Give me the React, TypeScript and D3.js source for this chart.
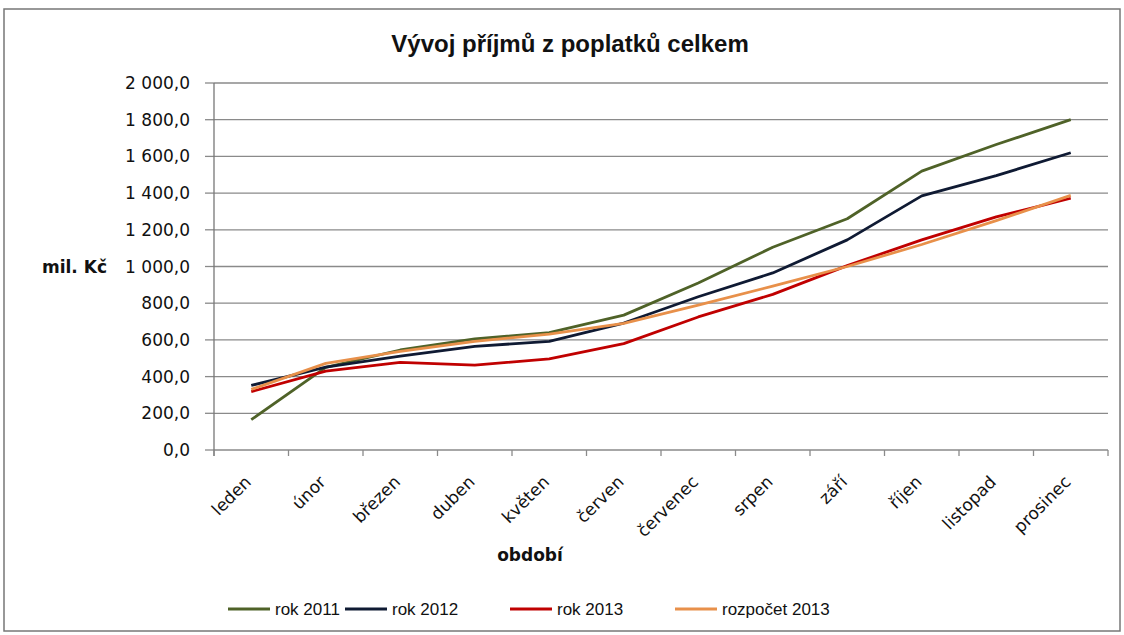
import React from 'react'
import * as d3 from 'd3'

const months = ['leden', 'únor', 'březen', 'duben', 'květen', 'červen', 'červenec', 'srpen', 'září', 'říjen', 'listopad', 'prosinec']
const rok2011 = [165, 450, 545, 605, 640, 735, 910, 1105, 1260, 1520, 1665, 1800]
const rok2012 = [352, 452, 512, 565, 592, 692, 835, 965, 1145, 1385, 1495, 1620]
const rok2013 = [318, 430, 478, 462, 497, 580, 725, 848, 1005, 1145, 1270, 1372]
const rozpocet2013 = [330, 472, 538, 592, 632, 690, 790, 893, 1000, 1120, 1250, 1388]
const yTicks = [0, 200, 400, 600, 800, 1000, 1200, 1400, 1600, 1800, 2000]

const seriesList = [
  { name: 'rok 2011', values: rok2011, color: '#4f6228' },
  { name: 'rok 2012', values: rok2012, color: '#0f1a33' },
  { name: 'rok 2013', values: rok2013, color: '#c00000' },
  { name: 'rozpočet 2013', values: rozpocet2013, color: '#e8904a' }
]

const font = '"Liberation Sans", Arial, sans-serif'
const axisFont = '"DejaVu Sans", Verdana, sans-serif'

const fmt = (v: number) => {
  const s = v.toFixed(1).replace('.', ',')
  const [int, dec] = s.split(',')
  return int.replace(/\B(?=(\d{3})+(?!\d))/g, ' ') + ',' + dec
}

export default function App () {
  const width = 1124
  const height = 635
  const left = 214
  const right = 1108
  const top = 83
  const bottom = 450

  const x = d3.scaleBand().domain(months).range([left, right])
  const y = d3.scaleLinear().domain([0, 2000]).range([bottom, top])
  const line = d3.line<number>()
    .x((_, i) => (x(months[i]) as number) + x.bandwidth() / 2)
    .y(d => y(d))

  const legendX = [228, 345, 510, 675]

  return (
    <svg width={width} height={height} style={{ position: 'absolute', left: 0, top: 0, fontFamily: font }}>
      <rect x={0} y={0} width={width} height={height} fill='#fff' />
      <rect x={4} y={9} width={1116} height={622} fill='none' stroke='#777' strokeWidth={1.5} />
      <text x={570} y={52} textAnchor='middle' fontSize={24} fontWeight='bold' fill='#111'>Vývoj příjmů z poplatků celkem</text>

      {yTicks.map(t => (
        <g key={t}>
          <line x1={left} x2={right} y1={y(t)} y2={y(t)} stroke='#8a8a8a' strokeWidth={1.3} />
          <line x1={left - 9} x2={left} y1={y(t)} y2={y(t)} stroke='#8a8a8a' strokeWidth={1.3} />
          <text x={left - 24} y={y(t) + 6} textAnchor='end' fontSize={17} fontFamily={axisFont} fill='#111'>{fmt(t)}</text>
        </g>
      ))}
      <line x1={left} x2={left} y1={top} y2={bottom + 6} stroke='#777' strokeWidth={1.3} />
      {d3.range(months.length + 1).map(i => {
        const xx = left + i * x.step()
        return <line key={i} x1={xx} x2={xx} y1={bottom} y2={bottom + 6} stroke='#8a8a8a' strokeWidth={1.3} />
      })}

      {months.map(m => {
        const cx = (x(m) as number) + x.bandwidth() / 2 + 1
        return (
          <text key={m} transform={`translate(${cx},${bottom + 33}) rotate(-45)`} textAnchor='end' fontSize={17} fontFamily={axisFont} fill='#111'>{m}</text>
        )
      })}

      <text x={42} y={273} fontSize={17} fontWeight='bold' fontFamily={axisFont} fill='#111'>mil. Kč</text>
      <text x={530} y={561} textAnchor='middle' fontSize={17} fontWeight='bold' fontFamily={axisFont} fill='#111'>období</text>

      {seriesList.map(s => (
        <path key={s.name} d={line(s.values) || ''} fill='none' stroke={s.color} strokeWidth={2.8} strokeLinejoin='round' />
      ))}

      {seriesList.map((s, i) => (
        <g key={s.name} transform={`translate(${legendX[i]},609)`}>
          <line x1={0} x2={42} y1={0} y2={0} stroke={s.color} strokeWidth={3} />
          <text x={47} y={6} fontSize={17} fill='#111'>{s.name}</text>
        </g>
      ))}
    </svg>
  )
}
